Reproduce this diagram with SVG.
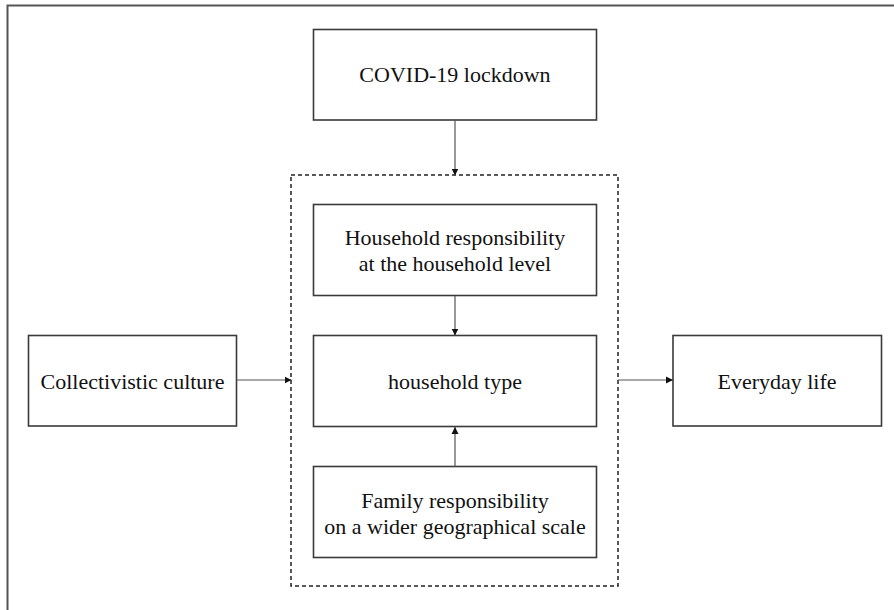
<svg xmlns="http://www.w3.org/2000/svg" width="894" height="610" viewBox="0 0 894 610">
  <defs>
    <marker id="arr" markerWidth="8" markerHeight="8" refX="7" refY="4" orient="auto" markerUnits="userSpaceOnUse">
      <path d="M0,0.5 L7,4 L0,7.5 Z" fill="#111"/>
    </marker>
    <style>
      .box { fill: #fff; stroke: #3a3a3a; stroke-width: 1.6; }
      .lbl { font-family: "Liberation Serif", "Times New Roman", serif; font-size: 22px; fill: #111; text-anchor: middle; }
      .conn { stroke: #555; stroke-width: 1.2; fill: none; marker-end: url(#arr); }
      .dash { fill: none; stroke: #222; stroke-width: 1.5; stroke-dasharray: 4 3; }
    </style>
  </defs>
  <rect x="0" y="0" width="894" height="610" fill="#fff"/>
  <rect x="7.5" y="5.5" width="900" height="620" fill="none" stroke="#555" stroke-width="2"/>

  <g id="group-dashed">
    <rect class="dash" x="291" y="175" width="327" height="411"/>
  </g>

  <g id="covid">
    <rect class="box" x="313.5" y="29.5" width="283" height="90.5"/>
    <text class="lbl" x="455" y="81.5">COVID-19 lockdown</text>
  </g>

  <g id="household-resp">
    <rect class="box" x="313.5" y="204.5" width="283" height="91"/>
    <text class="lbl" x="455" y="244.5">Household responsibility</text>
    <text class="lbl" x="455" y="271">at the household level</text>
  </g>

  <g id="household-type">
    <rect class="box" x="313.5" y="335.5" width="283" height="91"/>
    <text class="lbl" x="455" y="389">household type</text>
  </g>

  <g id="family-resp">
    <rect class="box" x="313.5" y="466.5" width="283" height="91"/>
    <text class="lbl" x="455" y="507.5">Family responsibility</text>
    <text class="lbl" x="455" y="533.5">on a wider geographical scale</text>
  </g>

  <g id="collectivistic">
    <rect class="box" x="28.5" y="335.5" width="208" height="90.5"/>
    <text class="lbl" x="132.5" y="388.5">Collectivistic culture</text>
  </g>

  <g id="everyday">
    <rect class="box" x="673" y="335.5" width="208.5" height="90.5"/>
    <text class="lbl" x="777" y="389">Everyday life</text>
  </g>

  <g id="connectors">
    <line class="conn" x1="455" y1="120" x2="455" y2="175.5"/>
    <line class="conn" x1="455" y1="296" x2="455" y2="335.5"/>
    <line class="conn" x1="455" y1="466.5" x2="455" y2="427"/>
    <line class="conn" x1="236.5" y1="380" x2="291.5" y2="380"/>
    <line class="conn" x1="618" y1="380" x2="673" y2="380"/>
  </g>
</svg>
